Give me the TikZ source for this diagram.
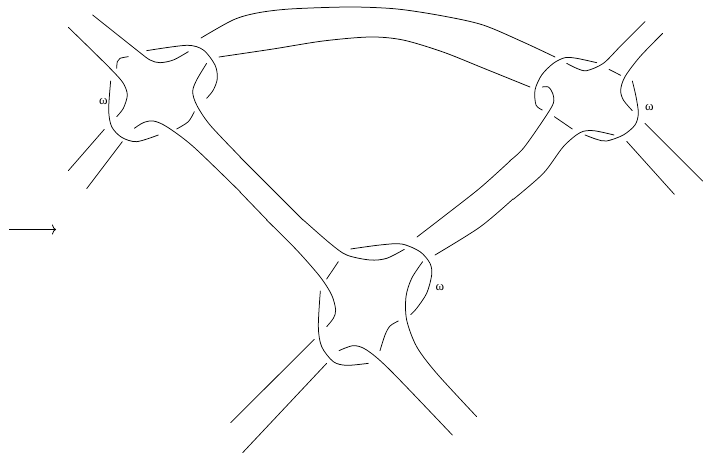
\documentclass[tikz,border=0pt]{standalone}
\usepackage{amsmath}
\usepackage{fontspec}
\setmainfont{Liberation Serif}
\usetikzlibrary{arrows.meta}

\begin{document}
\begin{tikzpicture}[x=1pt,y=-1pt,
  strand/.style={draw, line width=0.75pt, line cap=round},
  weight/.style={inner sep=0pt, font=\fontsize{13}{13}\selectfont},
  knot/.style={shift={(#1)}, scale=1/3}]
\useasboundingbox (0,0) rectangle (703,454);
% top left vertex
\begin{scope}[knot={60,10}]
\draw[strand] plot[smooth] coordinates {(25,52) (100,125) (160,185) (190,220) (202,255) (190,295) (170,320)};
\draw[strand] plot[smooth] coordinates {(98,15) (230,120) (270,150) (300,158) (340,150) (385,125)};
\draw[strand] plot[smooth] coordinates {(205,140) (180,145) (172,155) (170,175)};
\draw[strand] plot[smooth] coordinates {(260,122) (380,106) (430,120) (465,165) (472,205) (460,240) (440,265)};
\draw[strand] plot[smooth] coordinates {(440,160) (410,210) (398,245) (410,285) (450,345) (540,440)};
\draw[strand] plot[smooth] coordinates {(403,305) (385,335) (350,357)};
\draw[strand] plot[smooth] coordinates {(152,213) (146,300) (155,350) (185,382) (230,395) (295,375)};
\draw[strand] plot[smooth] coordinates {(223,355) (250,338) (280,333) (320,350) (400,410) (540,545)};
\draw[strand] (133,358) -- (25,482);
\draw[strand] (187,395) -- (80,536);
\node[weight] (omegaA) at (130,275) {ω};
\end{scope}
% top right vertex
\begin{scope}[knot={510,10}]
\draw[strand] plot[smooth] coordinates {(405,35) (330,110) (280,160) (230,182) (200,175) (170,160)};
\draw[strand] plot[smooth] coordinates {(260,158) (200,145) (165,143) (130,160) (95,195) (75,240) (78,285) (97,300)};
\draw[strand] plot[smooth] coordinates {(97,231) (115,231) (128,250) (130,280) (100,330) (40,415) (0,452)};
\draw[strand] plot[smooth] coordinates {(10,568) (100,490) (160,410) (210,368) (250,362) (312,375)};
\draw[strand] plot[smooth] coordinates {(225,375) (260,388) (290,393) (340,375) (375,345) (385,310) (378,260) (367,213)};
\draw[strand] (297,178) -- (332,196);
\draw[strand] (133,320) -- (187,357);
\draw[strand] plot[smooth] coordinates {(458,70) (390,140) (345,200) (332,240) (340,270) (367,302)};
\draw[strand] (405,340) -- (578,513);
\draw[strand] (350,394) -- (493,553);
\node[weight] (omegaB) at (418,292) {ω};
\end{scope}
% bottom vertex
\begin{scope}[knot={230,220}]
\draw[strand] plot[smooth] coordinates {(110,0) (200,90) (270,170) (305,225) (317,270) (310,295) (290,320)};
\draw[strand] plot[smooth] coordinates {(220,0) (300,70) (350,105) (420,120) (470,115) (523,88)};
\draw[strand] (325,125) -- (290,177);
\draw[strand] plot[smooth] coordinates {(362,87) (450,75) (515,72) (570,95) (600,130) (605,165) (590,220) (560,265) (542,284)};
\draw[strand] plot[smooth] coordinates {(578,125) (545,175) (528,230) (530,300) (560,380) (620,460) (740,590)};
\draw[strand] plot[smooth] coordinates {(505,303) (480,318) (465,345) (450,392)};
\draw[strand] plot[smooth] coordinates {(271,213) (265,320) (275,380) (310,425) (350,436) (415,430)};
\draw[strand] plot[smooth] coordinates {(327,392) (370,377) (410,390) (480,450) (667,645)};
\draw[strand] (253,358) -- (2,608);
\draw[strand] (290,430) -- (38,698);
\node[weight] (omegaC) at (630,203) {ω};
\end{scope}
% bands between the vertices
\draw[strand] plot[smooth] coordinates {(201,38) (233,20) (257,13) (290,9) (350,7) (397,9) (443,16) (483,25) (523,42) (555,57)};
\draw[strand] plot[smooth] coordinates {(219,57) (273,49) (323,41) (370,37) (403,40) (443,52) (483,68) (530,87)};
\draw[strand] (240,157) -- (303,220);
\draw[strand] (240,192) -- (267,220);
\draw[strand] plot[smooth] coordinates {(417,237) (443,217) (480,188) (510,161)};
\draw[strand] plot[smooth] coordinates {(435,255) (480,227) (513,199)};
% the arrow
\coordinate (from) at (9,229.5);
\coordinate (to) at (56,229.5);
\draw[line width=0.8pt, -{To[length=4pt,width=10pt]}] (from) -- (to);
\end{tikzpicture}
\end{document}
